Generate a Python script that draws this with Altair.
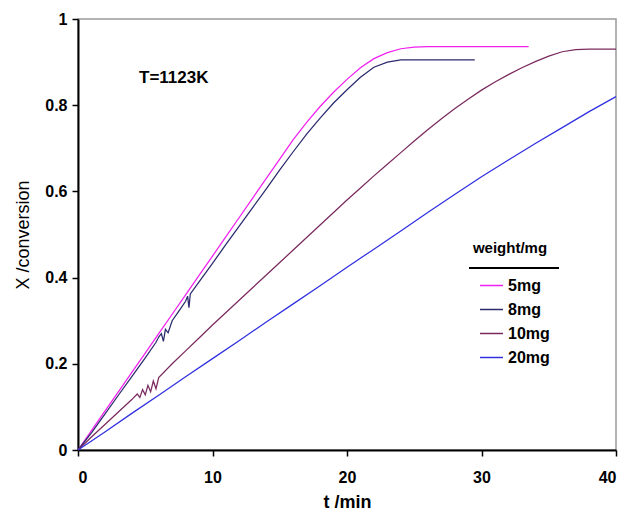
import altair as alt
import pandas as pd

series = ["5mg", "8mg", "10mg", "20mg"]
colors = ["#f020f0", "#2a2a6e", "#7a2a5e", "#3030e0"]

t_5 = [0, 1, 2, 3, 4, 5, 6, 7, 8, 9, 10, 11, 12, 13, 14, 15, 16, 17, 18, 19, 20,
       21, 22, 23, 24, 25, 26, 28, 30, 33.5]
x_5 = [0, 0.045, 0.09, 0.135, 0.18, 0.225, 0.27, 0.315, 0.36, 0.405, 0.45, 0.495,
       0.54, 0.585, 0.63, 0.675, 0.72, 0.76, 0.797, 0.83, 0.86, 0.887, 0.908,
       0.922, 0.931, 0.935, 0.936, 0.936, 0.936, 0.936]

t_8 = [0, 1, 2, 3, 4, 5, 5.8, 6.0, 6.2, 6.35, 6.5, 6.7, 7, 7.5, 8.0, 8.15, 8.25,
       8.35, 9, 10, 11, 12, 13, 14, 15, 16, 17, 18, 19, 20, 21, 22, 23, 24, 25,
       27, 29.5]
x_8 = [0, 0.04, 0.083, 0.127, 0.17, 0.214, 0.25, 0.262, 0.27, 0.252, 0.28, 0.272,
       0.3, 0.322, 0.345, 0.357, 0.33, 0.362, 0.39, 0.433, 0.477, 0.52, 0.563,
       0.606, 0.65, 0.692, 0.733, 0.77, 0.805, 0.836, 0.865, 0.888, 0.9, 0.905,
       0.905, 0.905, 0.905]

t_10 = [0, 1, 2, 3, 4, 4.4, 4.6, 4.8, 5.0, 5.2, 5.4, 5.6, 5.8, 6.0, 7, 8, 9, 10,
        11, 12, 13, 14, 15, 16, 17, 18, 19, 20, 21, 22, 23, 24, 25, 26, 27, 28,
        29, 30, 31, 32, 33, 34, 35, 36, 37, 38, 40]
x_10 = [0, 0.03, 0.059, 0.088, 0.117, 0.13, 0.122, 0.14, 0.128, 0.15, 0.135, 0.16,
        0.142, 0.168, 0.2, 0.23, 0.26, 0.29, 0.319, 0.348, 0.377, 0.406, 0.435,
        0.464, 0.493, 0.522, 0.551, 0.58, 0.608, 0.636, 0.663, 0.69, 0.717, 0.743,
        0.768, 0.792, 0.814, 0.835, 0.854, 0.871, 0.887, 0.901, 0.914, 0.924,
        0.929, 0.93, 0.93]

t_20 = [0, 2, 4, 6, 8, 10, 12, 14, 16, 18, 20, 22, 24, 26, 28, 30, 32, 34, 36,
        38, 40]
x_20 = [0, 0.042, 0.085, 0.127, 0.17, 0.212, 0.254, 0.297, 0.339, 0.381, 0.424,
        0.466, 0.508, 0.551, 0.593, 0.634, 0.673, 0.711, 0.748, 0.785, 0.82]

x_ticks = [0, 10, 20, 30, 40]
y_ticks = [0, 0.2, 0.4, 0.6, 0.8, 1]
annotation = ["T=1123K"]
legend_title = ["weight/mg"]

rows = []
for name, ts, xs in zip(series, [t_5, t_8, t_10, t_20], [x_5, x_8, x_10, x_20]):
    for i, (t, x) in enumerate(zip(ts, xs)):
        rows.append({"series": name, "t": t, "X": x, "order": i})
df = pd.DataFrame(rows)

FONT = "Liberation Sans"

lines = alt.Chart(df).mark_line(strokeWidth=1.25).encode(
    x=alt.X("t:Q", scale=alt.Scale(domain=[0, 40], nice=False),
            axis=alt.Axis(values=x_ticks, title="t /min", grid=False,
                          titleFontWeight="bold", titleFontSize=18,
                          titlePadding=8, labelPadding=13)),
    y=alt.Y("X:Q", scale=alt.Scale(domain=[0, 1], nice=False),
            axis=alt.Axis(values=y_ticks, format="~g", title="X /conversion",
                          grid=False, titleFontWeight="normal", titleFontSize=18,
                          titlePadding=12, labelPadding=5)),
    color=alt.Color("series:N",
                    scale=alt.Scale(domain=series, range=colors),
                    legend=alt.Legend(orient="none", legendX=401, legendY=254,
                                      title=None, symbolType="stroke",
                                      symbolSize=529, symbolStrokeWidth=1.5,
                                      labelFontSize=16, labelFontWeight="bold",
                                      labelFont=FONT, labelColor="black",
                                      labelOffset=4, rowPadding=3, padding=0)),
    order="order:Q",
)

ann = alt.Chart(pd.DataFrame({"text": annotation})).mark_text(
    align="left", baseline="middle", fontSize=17, fontWeight="bold", font=FONT,
    color="black"
).encode(x=alt.value(61), y=alt.value(59), text="text:N")

ltitle = alt.Chart(pd.DataFrame({"text": legend_title})).mark_text(
    align="center", baseline="middle", fontSize=15, fontWeight="bold", font=FONT,
    color="black"
).encode(x=alt.value(432), y=alt.value(229), text="text:N")

uline = alt.Chart(pd.DataFrame({"text": legend_title})).mark_rule(
    color="black", strokeWidth=2
).encode(x=alt.value(391), x2=alt.value(481), y=alt.value(249))

chart = alt.layer(lines, ann, ltitle, uline).properties(
    width=538, height=431,
    autosize=alt.AutoSizeParams(type="none"),
    padding={"left": 78, "top": 19, "right": 13, "bottom": 64},
).configure_view(
    stroke="#9a9a9a", strokeWidth=1.5
).configure_axis(
    labelFont=FONT, labelFontWeight="bold", labelFontSize=16, labelColor="black",
    titleFont=FONT, titleColor="black", domainColor="black", domainWidth=2,
    tickColor="black", tickSize=6, tickWidth=1.5
)

chart.save("out.html", embed_options={"renderer": "svg", "actions": False})
